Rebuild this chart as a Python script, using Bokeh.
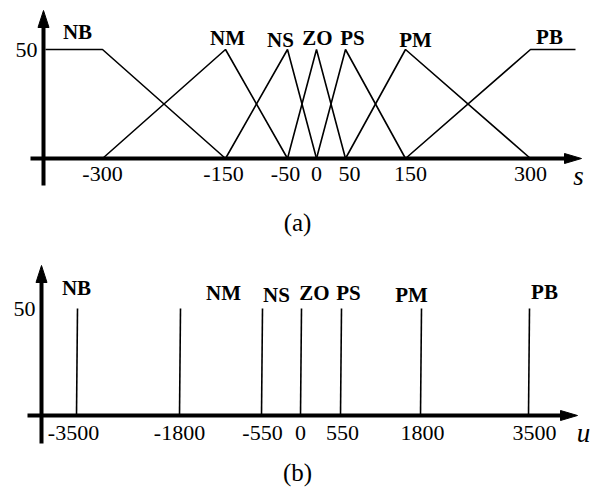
import numpy as np
from bokeh.plotting import figure
from bokeh.layouts import column
from bokeh.models import Range1d
from bokeh.core.properties import value
from bokeh.embed import file_html
from bokeh.resources import INLINE

# ---------------- data ----------------
S_LABELS = ["NB", "NM", "NS", "ZO", "PS", "PM", "PB"]
S_CENTERS = [-300, -150, -50, 0, 50, 150, 300]
S_LEFT = [None, -300, -150, -50, 0, 50, 150]
S_RIGHT = [-150, -50, 0, 50, 150, 300, None]
S_TICKS = [-300, -150, -50, 0, 50, 150, 300]
PEAK = 50

U_LABELS = ["NB", "NM", "NS", "ZO", "PS", "PM", "PB"]
U_VALUES = [-3500, -1800, -550, 0, 550, 1800, 3500]
U_TICKS = [-3500, -1800, -550, 0, 550, 1800, 3500]
Y_TICKS = [50]

# ---------------- schematic (non-uniform) axis layout ----------------
S_STOPS = [102, 225, 287, 316, 345, 405, 530]   # screen stops of the s axis
U_STOPS = [76, 179, 261, 300, 340, 420, 528]    # screen stops of the u axis


def sx(v):
    return float(np.interp(v, S_TICKS, S_STOPS))


def ux(v):
    return float(np.interp(v, U_TICKS, U_STOPS))


SERIF = value("Liberation Serif")
W = 597
TICK_FS = "22px"
LAB_FS = "21px"


def make_fig(h, y0, y1):
    p = figure(width=W, height=h, x_range=Range1d(0, W), y_range=Range1d(y0, y1),
               output_backend="svg", toolbar_location=None, min_border=0)
    p.axis.visible = False
    p.grid.visible = False
    p.outline_line_color = None
    p.background_fill_color = "white"
    p.border_fill_color = "white"
    return p


def draw_axes(p, ppu, ax_x, x_from, x_to, y_from, y_to):
    # x axis
    p.line([x_from, x_to - 12], [0, 0], line_width=4, line_color="black")
    hw = 5.0 / ppu
    p.patch([x_to - 17, x_to, x_to - 17], [hw, 0, -hw], fill_color="black", line_color="black")
    # y axis
    L = 17.0 / ppu
    p.line([ax_x, ax_x], [y_from, y_to - 12.0 / ppu], line_width=4, line_color="black")
    p.patch([ax_x - 5.5, ax_x, ax_x + 5.5], [y_to - L, y_to, y_to - L], fill_color="black", line_color="black")


# ---------------- panel (a) ----------------
PPU_A = 2.18
H_A = 240
pa = make_fig(H_A, -(H_A - 158) / PPU_A, 158 / PPU_A)
AX_A = 43
draw_axes(pa, PPU_A, AX_A, 30, 581, -27 / PPU_A, 148 / PPU_A)

SHOULDER = 45
for lab, c, l, r in zip(S_LABELS, S_CENTERS, S_LEFT, S_RIGHT):
    if l is None:
        xs = [AX_A + 2, sx(c), sx(r)]
        ys = [PEAK, PEAK, 0]
    elif r is None:
        xs = [sx(l), sx(c), sx(c) + SHOULDER]
        ys = [0, PEAK, PEAK]
    else:
        xs = [sx(l), sx(c), sx(r)]
        ys = [0, PEAK, 0]
    pa.line(xs, ys, line_width=1.6, line_color="black")

lab_dx_a = [-25, 2, -7, 1, 7, 10, 19]
lab_dy_a = [18, 12, 10, 12, 12, 10, 13]
pa.text(x=[sx(c) + d for c, d in zip(S_CENTERS, lab_dx_a)],
        y=[PEAK + d / PPU_A for d in lab_dy_a],
        text=S_LABELS, text_font=SERIF, text_font_style="bold", text_font_size=LAB_FS,
        text_align="center", text_baseline="middle", text_color="black")

tick_dx_a = [0, -2, -2, 0, 4, 5, 0]
pa.text(x=[sx(t) + d for t, d in zip(S_TICKS, tick_dx_a)], y=[-15 / PPU_A] * len(S_TICKS),
        text=[str(t) for t in S_TICKS], text_font=SERIF, text_font_size=TICK_FS,
        text_align="center", text_baseline="middle", text_color="black")
pa.text(x=[AX_A - 6], y=Y_TICKS, text=[str(v) for v in Y_TICKS], text_font=SERIF,
        text_font_size=TICK_FS, text_align="right", text_baseline="middle", text_color="black")
pa.text(x=[578], y=[-17 / PPU_A], text=["s"], text_font=SERIF, text_font_style="italic",
        text_font_size="27px", text_align="center", text_baseline="middle", text_color="black")
pa.text(x=[297], y=[-64 / PPU_A], text=["(a)"], text_font=SERIF, text_font_size="25px",
        text_align="center", text_baseline="middle", text_color="black")

# ---------------- panel (b) ----------------
PPU_B = 2.14
TOP_B = H_A
H_B = 487 - TOP_B
pb = make_fig(H_B, -(TOP_B + H_B - 415) / PPU_B, (415 - TOP_B) / PPU_B)
AX_B = 41
draw_axes(pb, PPU_B, AX_B, 27, 577, -28 / PPU_B, 150 / PPU_B)

for v in U_VALUES:
    pb.line([ux(v), ux(v) + 1], [0, PEAK], line_width=1.6, line_color="black")

lab_dx_b = [0, 44, 15, 14, 8, -9, 16]
lab_dy_b = [21, 16, 14, 16, 16, 14, 17]
pb.text(x=[ux(v) + d for v, d in zip(U_VALUES, lab_dx_b)],
        y=[PEAK + d / PPU_B for d in lab_dy_b],
        text=U_LABELS, text_font=SERIF, text_font_style="bold", text_font_size=LAB_FS,
        text_align="center", text_baseline="middle", text_color="black")

tick_dx_b = [-3, 0, 1, 0, 2, 2, 6]
pb.text(x=[ux(t) + d for t, d in zip(U_TICKS, tick_dx_b)], y=[-17 / PPU_B] * len(U_TICKS),
        text=[str(t) for t in U_TICKS], text_font=SERIF, text_font_size=TICK_FS,
        text_align="center", text_baseline="middle", text_color="black")
pb.text(x=[AX_B - 6], y=Y_TICKS, text=[str(v) for v in Y_TICKS], text_font=SERIF,
        text_font_size=TICK_FS, text_align="right", text_baseline="middle", text_color="black")
pb.text(x=[583], y=[-17 / PPU_B], text=["u"], text_font=SERIF, text_font_style="italic",
        text_font_size="27px", text_align="center", text_baseline="middle", text_color="black")
pb.text(x=[297], y=[-57 / PPU_B], text=["(b)"], text_font=SERIF, text_font_size="25px",
        text_align="center", text_baseline="middle", text_color="black")

layout = column(pa, pb, spacing=0)
open("out.html", "w").write(file_html(layout, INLINE))
